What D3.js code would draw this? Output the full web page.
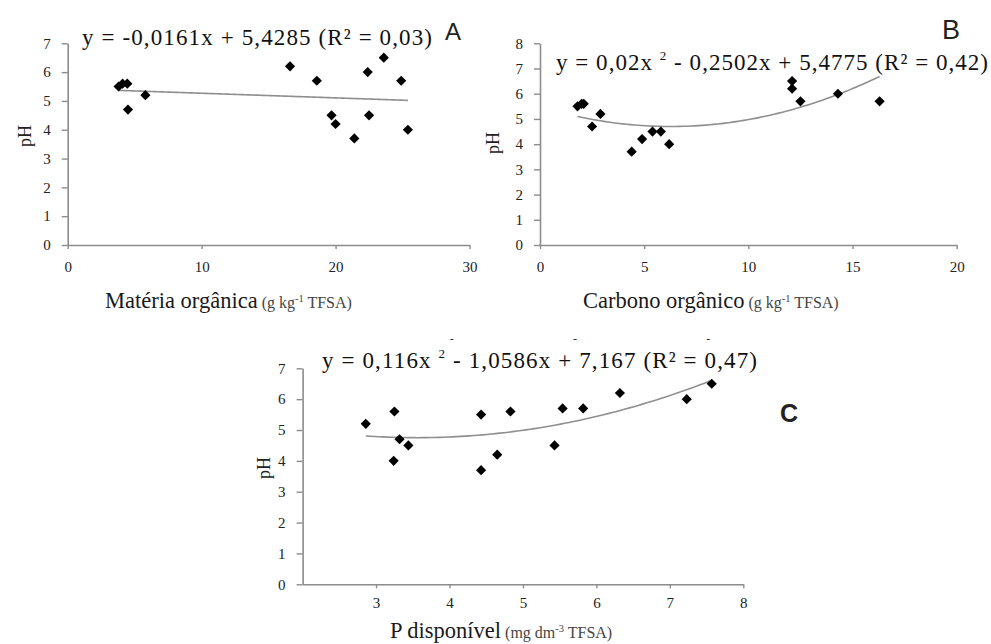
<!DOCTYPE html>
<html>
<head>
<meta charset="utf-8">
<script src="https://cdn.jsdelivr.net/npm/d3@7"></script>
<style>
  html, body { margin: 0; padding: 0; background: #fff; }
  svg { display: block; }
</style>
</head>
<body>
<svg id="chart" width="991" height="644"></svg>
<script>
// ---- data ----
const materiaOrganica = [3.8, 4.1, 4.45, 4.5, 5.8, 16.6, 18.6, 19.7, 20.0, 21.4, 22.4, 22.5, 23.6, 24.9, 25.4];
const phA             = [5.5, 5.6, 5.6, 4.7, 5.2, 6.2, 5.7, 4.5, 4.2, 3.7, 6.0, 4.5, 6.5, 5.7, 4.0];

const carbonoOrganico = [1.8, 2.0, 2.1, 2.5, 2.9, 4.4, 4.9, 5.4, 5.8, 6.2, 12.1, 12.1, 12.5, 14.3, 16.3];
const phB             = [5.5, 5.6, 5.6, 4.7, 5.2, 3.7, 4.2, 4.5, 4.5, 4.0, 6.5, 6.2, 5.7, 6.0, 5.7];

const pDisponivel     = [2.86, 3.25, 3.24, 3.32, 3.44, 4.43, 4.43, 4.65, 4.83, 5.43, 5.54, 5.82, 6.32, 7.23, 7.57];
const phC             = [5.2, 5.6, 4.0, 4.7, 4.5, 5.5, 3.7, 4.2, 5.6, 4.5, 5.7, 5.7, 6.2, 6.0, 6.5];

const xTicksA = [0, 10, 20, 30];
const yTicksA = [0, 1, 2, 3, 4, 5, 6, 7];
const xTicksB = [0, 5, 10, 15, 20];
const yTicksB = [0, 1, 2, 3, 4, 5, 6, 7, 8];
const xTicksC = [3, 4, 5, 6, 7, 8];
const yTicksC = [0, 1, 2, 3, 4, 5, 6, 7];

// equation texts: [before superscript, superscript, after]
const eqA = ["y = -0,0161x + 5,4285 (R\u00B2 = 0,03)", "", ""];
const eqB = ["y = 0,02x ", "2", " - 0,2502x + 5,4775 (R\u00B2 = 0,42)"];
const eqC = ["y = 0,116x ", "2", " - 1,0586x + 7,167 (R\u00B2 = 0,47)"];

const titleA = ["Matéria orgânica", " (g kg", "-1", " TFSA)"];
const titleB = ["Carbono orgânico", " (g kg", "-1", "  TFSA)"];
const titleC = ["P disponível", " (mg dm", "-3", " TFSA)"];

// ---- least squares polynomial fit ----
function polyfit(xs, ys, deg) {
  const n = deg + 1;
  const M = Array.from({length: n}, () => new Array(n + 1).fill(0));
  for (let k = 0; k < xs.length; k++) {
    for (let i = 0; i < n; i++) {
      for (let j = 0; j < n; j++) M[i][j] += Math.pow(xs[k], i + j);
      M[i][n] += ys[k] * Math.pow(xs[k], i);
    }
  }
  for (let i = 0; i < n; i++) {
    let p = i;
    for (let r = i + 1; r < n; r++) if (Math.abs(M[r][i]) > Math.abs(M[p][i])) p = r;
    [M[i], M[p]] = [M[p], M[i]];
    for (let r = 0; r < n; r++) {
      if (r === i) continue;
      const f = M[r][i] / M[i][i];
      for (let c = i; c <= n; c++) M[r][c] -= f * M[i][c];
    }
  }
  return M.map((row, i) => row[n] / row[i]);
}

const svg = d3.select("#chart");
svg.append("rect").attr("width", 991).attr("height", 644).attr("fill", "#fff");

const serif = "'Liberation Serif', 'DejaVu Serif', serif";
const sans = "'Liberation Sans', Arial, sans-serif";

function panel(cfg) {
  const g = svg.append("g");
  const x = d3.scaleLinear().domain(cfg.xDomain).range(cfg.xRange);
  const y = d3.scaleLinear().domain(cfg.yDomain).range(cfg.yRange);

  const ax = g.append("g").attr("transform", `translate(0,${cfg.yRange[0]})`)
    .call(d3.axisBottom(x).tickValues(cfg.xTicks).tickFormat(d3.format("d"))
      .tickSize(4).tickSizeOuter(0).tickPadding(cfg.xPad));
  const ay = g.append("g").attr("transform", `translate(${cfg.xRange[0]},0)`)
    .call(d3.axisLeft(y).tickValues(cfg.yTicks).tickFormat(d3.format("d"))
      .tickSize(6).tickSizeOuter(0).tickPadding(11));
  [ax, ay].forEach(a => {
    a.attr("font-family", serif).attr("font-size", 15);
    a.select(".domain").attr("stroke", "#8c8c8c").attr("stroke-width", 1.6);
    a.selectAll(".tick line").attr("stroke", "#8c8c8c").attr("stroke-width", 1.4);
    a.selectAll(".tick text").attr("fill", "#222").attr("font-family", serif).attr("font-size", 15);
  });

  // trend (least-squares fit of the plotted points)
  const coef = polyfit(cfg.xs, cfg.ys, cfg.deg);
  const x0 = d3.min(cfg.xs), x1 = d3.max(cfg.xs);
  const samples = d3.range(0, 81).map(i => x0 + (x1 - x0) * i / 80);
  const f = v => coef.reduce((s, c, i) => s + c * Math.pow(v, i), 0);
  g.append("path")
    .attr("d", d3.line().x(v => x(v)).y(v => y(f(v)))(samples))
    .attr("fill", "none").attr("stroke", "#8f8f8f").attr("stroke-width", 1.6);

  // points
  g.selectAll(".pt").data(cfg.xs.map((v, i) => [v, cfg.ys[i]])).enter()
    .append("path").attr("class", "pt")
    .attr("d", d3.symbol(d3.symbolSquare, 52)())
    .attr("transform", d => `translate(${x(d[0])},${y(d[1])}) rotate(45)`)
    .attr("fill", "#000");

  // y label
  g.append("text").attr("transform", `translate(${cfg.phPos[0]},${cfg.phPos[1]}) rotate(-90)`)
    .attr("text-anchor", "middle").attr("dominant-baseline", "middle")
    .attr("font-family", serif).attr("font-size", 18).attr("fill", "#222").text("pH");

  // axis title
  const t = g.append("text").attr("x", cfg.titlePos[0]).attr("y", cfg.titlePos[1])
    .attr("font-family", serif);
  t.append("tspan").attr("font-size", 22.5).attr("fill", "#1a1a1a").text(cfg.title[0]);
  t.append("tspan").attr("font-size", 16).attr("fill", "#444").text(cfg.title[1]);
  t.append("tspan").attr("font-size", 10.5).attr("fill", "#444").attr("dy", -6).text(cfg.title[2]);
  t.append("tspan").attr("font-size", 16).attr("fill", "#444").attr("dy", 6).text(cfg.title[3]);

  // equation
  const e = g.append("text").attr("x", cfg.eqPos[0]).attr("y", cfg.eqPos[1])
    .attr("font-family", serif).attr("font-size", cfg.eqSize).attr("fill", "#111")
    .attr("textLength", cfg.eqLen).attr("lengthAdjust", "spacing");
  e.append("tspan").text(cfg.eq[0]);
  if (cfg.eq[1]) {
    e.append("tspan").attr("font-size", 13).attr("dy", -10).text(cfg.eq[1]);
    e.append("tspan").attr("dy", 10).text(cfg.eq[2]);
  }

  // panel letter
  g.append("text").attr("x", cfg.letterPos[0]).attr("y", cfg.letterPos[1])
    .attr("font-family", sans).attr("font-size", cfg.letterSize)
    .attr("font-weight", cfg.letterBold ? "bold" : "normal")
    .attr("fill", "#222").text(cfg.letter);
  return g;
}

panel({
  xs: materiaOrganica, ys: phA, deg: 1,
  xDomain: [0, 30], xRange: [67.7, 469.5], yDomain: [0, 7], yRange: [245, 43.3],
  xTicks: xTicksA, yTicks: yTicksA, xPad: 12,
  phPos: [27, 136], title: titleA, titlePos: [105, 308],
  eq: eqA, eqPos: [82, 45], eqSize: 23, eqLen: 350,
  letter: "A", letterPos: [445, 40], letterSize: 24
});

panel({
  xs: carbonoOrganico, ys: phB, deg: 2,
  xDomain: [0, 20], xRange: [540, 956.7], yDomain: [0, 8], yRange: [245, 43.3],
  xTicks: xTicksB, yTicks: yTicksB, xPad: 12,
  phPos: [495, 143], title: titleB, titlePos: [583, 308],
  eq: eqB, eqPos: [556, 70], eqSize: 23, eqLen: 432,
  letter: "B", letterPos: [942, 38.5], letterSize: 27
});

panel({
  xs: pDisponivel, ys: phC, deg: 2,
  xDomain: [2, 8], xRange: [302.6, 743.3], yDomain: [0, 7], yRange: [584.3, 368.3],
  xTicks: xTicksC, yTicks: yTicksC, xPad: 9,
  phPos: [266, 468], title: titleC, titlePos: [390, 638],
  eq: eqC, eqPos: [322, 368], eqSize: 23, eqLen: 435,
  letter: "C", letterPos: [780, 422], letterSize: 25, letterBold: true
});

// small stray marks above equation C (present in the reference image)
const strayMarksX = [451.7, 575, 708.3];
svg.selectAll(".stray").data(strayMarksX).enter().append("text")
  .attr("x", d => d).attr("y", 343).attr("text-anchor", "middle")
  .attr("font-family", serif).attr("font-size", 12).attr("fill", "#333").text("-");
</script>
</body>
</html>
